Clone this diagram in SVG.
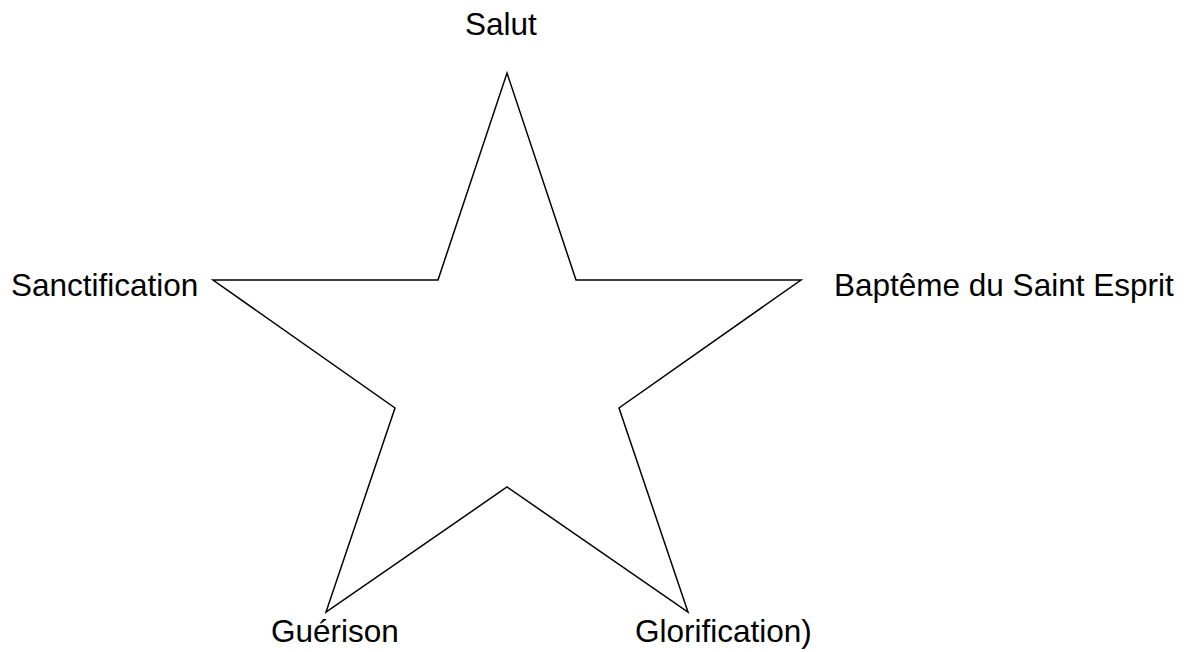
<svg xmlns="http://www.w3.org/2000/svg" width="1187" height="652" viewBox="0 0 1187 652">
<style>
.lbl{font-family:"Liberation Sans",Arial,sans-serif;font-size:31.5px;fill:#000}
.star{fill:none;stroke:#000;stroke-width:1.5;stroke-linejoin:miter}
</style>
<rect width="1187" height="652" fill="#fff"/>
<g id="star">
<polygon class="star" points="507,73 576,280 801,280 619,408 688,612 507,487 326,612 395,408 213,280 438,280"/>
</g>
<g id="connectors"></g>
<g id="salut"><text class="lbl" x="465" y="35">Salut</text></g>
<g id="sanctification"><text class="lbl" x="11" y="296">Sanctification</text></g>
<g id="bapteme"><text class="lbl" x="834" y="296">Baptême du Saint Esprit</text></g>
<g id="guerison"><text class="lbl" x="271" y="642">Guérison</text></g>
<g id="glorification"><text class="lbl" x="635" y="642">Glorification)</text></g>
</svg>
